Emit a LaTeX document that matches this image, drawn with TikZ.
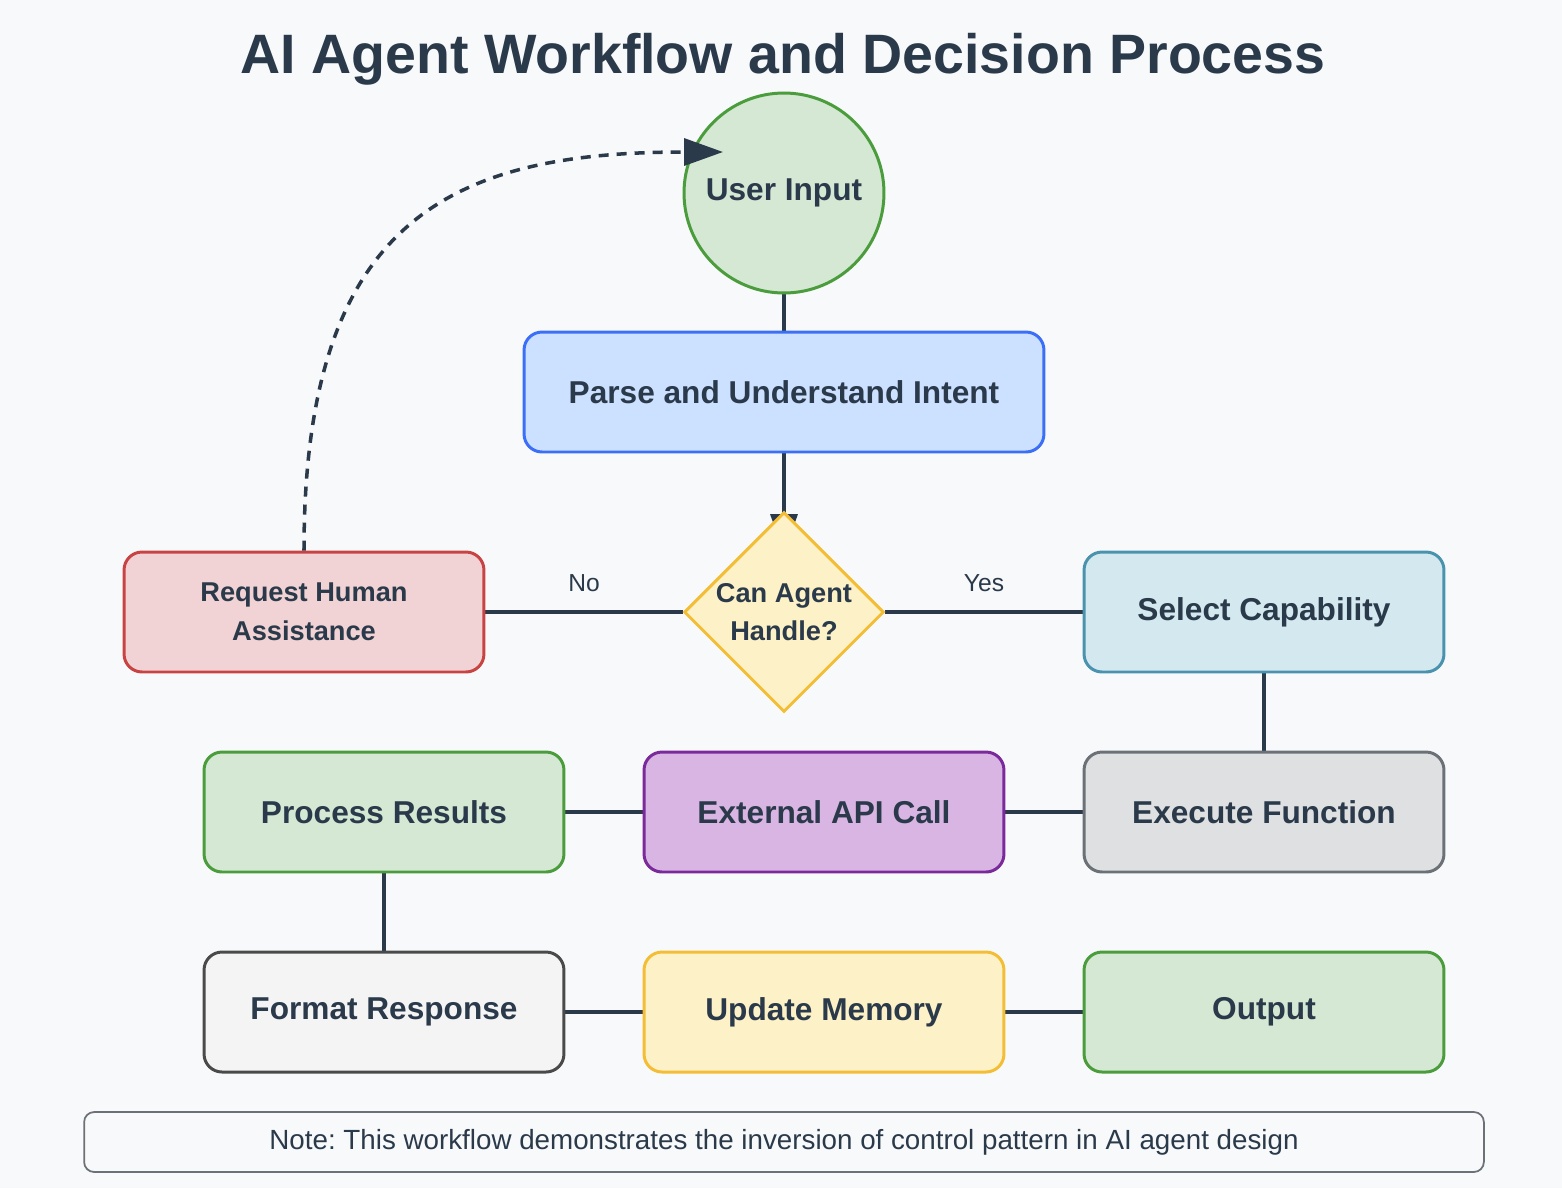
\documentclass[tikz,border=0pt]{standalone}
\usepackage{fontspec}
\setmainfont{Liberation Sans}
\usetikzlibrary{shapes.geometric,arrows.meta}
\frenchspacing

\definecolor{bgcol}{HTML}{F8F9FA}
\definecolor{ink}{HTML}{2B3A4A}
\definecolor{greenfill}{HTML}{D5E8D4}
\definecolor{greenline}{HTML}{4A9C3C}
\definecolor{bluefill}{HTML}{CCE0FF}
\definecolor{blueline}{HTML}{3B6FF5}
\definecolor{yellowfill}{HTML}{FDF2C7}
\definecolor{yellowline}{HTML}{F4BD36}
\definecolor{redfill}{HTML}{F2D3D5}
\definecolor{redline}{HTML}{C84444}
\definecolor{tealfill}{HTML}{D3E8EF}
\definecolor{tealline}{HTML}{4A93AE}
\definecolor{purplefill}{HTML}{D8B5E3}
\definecolor{purpleline}{HTML}{7A2A9A}
\definecolor{grayfill}{HTML}{DFE0E2}
\definecolor{grayline}{HTML}{6C7178}
\definecolor{lightfill}{HTML}{F4F4F4}
\definecolor{darkline}{HTML}{4A4A4A}

\pgfdeclarelayer{bg}
\pgfsetlayers{bg,main}

\begin{document}
\begin{tikzpicture}[x=0.02cm, y=-0.02cm,
  box/.style={draw, line width=1.7pt, rounded corners=0.36cm, minimum width=7.2cm,
    minimum height=2.4cm, align=center, text=ink, font=\fontsize{18}{22}\selectfont\bfseries},
  smallbox/.style={box, font=\fontsize{15.5}{22}\selectfont\bfseries},
  link/.style={draw=ink, line width=2pt},
  lbl/.style={text=ink, font=\fontsize{14}{17}\selectfont}]

% Background
\begin{pgfonlayer}{bg}
\fill[bgcol] (0,0) rectangle (1562,1188);
\end{pgfonlayer}

% Title
\node[text=ink, font=\fontsize{31.6}{38}\selectfont\bfseries] (title) at (783,59)
  {AI Agent Workflow and Decision Process};

% Start and parsing
\node[circle, draw=greenline, line width=1.7pt, fill=greenfill, minimum size=4cm, inner sep=0pt,
  text=ink, font=\fontsize{18}{22}\selectfont\bfseries] (input) at (784,193) {User Input};
\node[box, draw=blueline, fill=bluefill, minimum width=10.4cm] (parse) at (784,392)
  {Parse and Understand Intent};

% Decision
\node[diamond, aspect=1, draw=yellowline, line width=1.7pt, fill=yellowfill, minimum size=4cm,
  inner sep=0pt, align=center, text=ink, font=\fontsize{15.5}{22}\selectfont\bfseries]
  (decide) at (784,612) {Can Agent\\Handle?};
\node[smallbox, draw=redline, fill=redfill] (human) at (304,612) {Request Human\\Assistance};
\node[box, draw=tealline, fill=tealfill] (select) at (1264,612) {Select Capability};

% Execution row
\node[box, draw=greenline, fill=greenfill] (process) at (384,812) {Process Results};
\node[box, draw=purpleline, fill=purplefill] (api) at (824,812) {External API Call};
\node[box, draw=grayline, fill=grayfill] (execute) at (1264,812) {Execute Function};

% Response row
\node[box, draw=darkline, fill=lightfill] (format) at (384,1012) {Format Response};
\node[box, draw=yellowline, fill=yellowfill] (memory) at (824,1012) {Update Memory};
\node[box, draw=greenline, fill=greenfill] (output) at (1264,1012) {Output};

% Note
\node[draw=grayline, line width=1pt, rounded corners=0.2cm, minimum width=28cm,
  minimum height=1.2cm, text=ink, font=\fontsize{15.8}{18}\selectfont] (note) at (784,1142)
  {Note: This workflow demonstrates the inversion of control pattern in AI agent design};

% Connectors (behind the shapes)
\coordinate (loopend) at (723,152);
\begin{pgfonlayer}{bg}
\draw[link] (input.south) -- (parse.north);
\draw[link, -{Triangle[length=0.78cm, width=0.54cm]}] (parse.south) -- ([yshift=-0.85cm]decide.north);
\draw[link] (decide.west) -- (human.east) node[lbl, pos=0.5, above=0.25cm] {No};
\draw[link] (decide.east) -- (select.west) node[lbl, pos=0.5, above=0.25cm] {Yes};
\draw[link] (select.south) -- (execute.north);
\draw[link] (execute.west) -- (api.east);
\draw[link] (api.west) -- (process.east);
\draw[link] (process.south) -- (format.north);
\draw[link] (format.east) -- (memory.west);
\draw[link] (memory.east) -- (output.west);
\end{pgfonlayer}

% Loop back to the user
\draw[link, dash pattern=on 0.2cm off 0.16cm, -{Triangle[length=0.78cm, width=0.54cm]}]
  (human.north) .. controls (304,220) and (450,152) .. (loopend);

\end{tikzpicture}
\end{document}
